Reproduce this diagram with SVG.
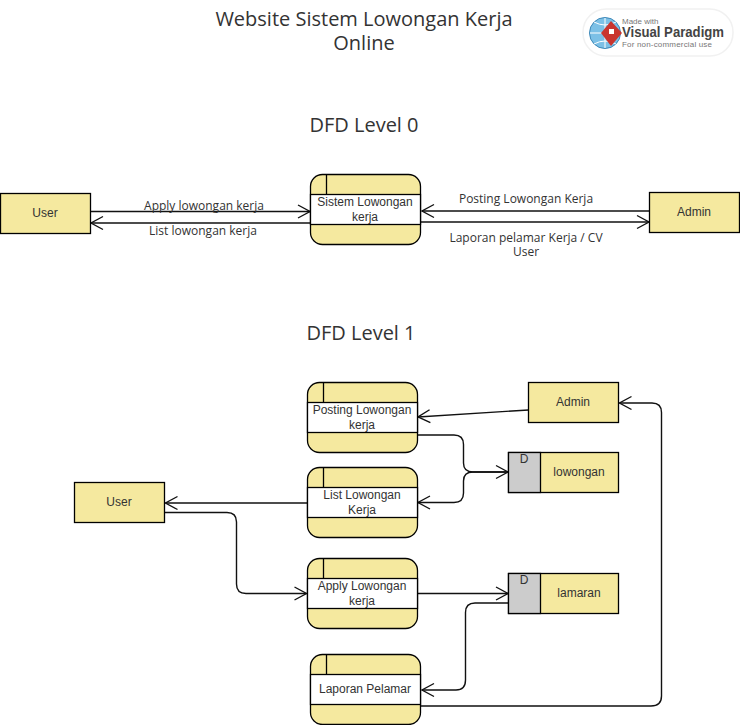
<svg xmlns="http://www.w3.org/2000/svg" width="740" height="725" viewBox="0 0 740 725">
<style>
text{fill:#333;text-anchor:middle}
.t{font:20px "Open Sans",sans-serif}
.l{font:12px "Open Sans",sans-serif}
.n{font:12px "Liberation Sans",Arial,sans-serif}
.box{fill:#f5e99f;stroke:#000;stroke-width:1.3}
.mid{fill:#fff;stroke:#000;stroke-width:1.3}
.ln{fill:none;stroke:#000;stroke-width:1.3}
.c{fill:none;stroke:#111;stroke-width:1.4;marker-end:url(#a)}
</style>
<defs>
<marker id="a" markerUnits="userSpaceOnUse" markerWidth="16" markerHeight="16" refX="13" refY="8" orient="auto" overflow="visible"><path d="M1 1.5L13 8L1 14.500" fill="none" stroke="#111" stroke-width="1.4"/></marker>
<symbol id="proc" overflow="visible"><rect class="box" x="0" y="0" width="110" height="70" rx="12"/><rect class="mid" x="0" y="20" width="110" height="30"/><path class="ln" d="M16 0V20"/></symbol>
</defs>
<rect width="740" height="725" fill="#fff"/>
<text class="t" x="364" y="26">Website Sistem Lowongan Kerja<tspan x="364" dy="24">Online</tspan></text>
<text class="t" x="364" y="132">DFD Level 0</text>
<text class="t" x="361" y="340">DFD Level 1</text>
<g id="badge">
<rect x="583" y="9" width="150" height="47" rx="23" fill="#fff" stroke="#f1f1f1" stroke-width="1.500"/>
<circle cx="605" cy="33" r="15.500" fill="#7cc0e6" stroke="#3d88b8"/>
<path d="M590 33H620M605 18V48M594 22Q605 28 616 22M594 44Q605 38 616 44" fill="none" stroke="#fff"/>
<path d="M611 21L622 33L611 46L601 33Z" fill="#c9352f"/><path d="M609 29H614V34H609Z" fill="#fff"/>
<text style="font:8px 'Liberation Sans',sans-serif;text-anchor:start;fill:#777"><tspan x="622" y="24">Made with</tspan><tspan x="622" y="37" style="font:bold 14px 'Liberation Sans',sans-serif;fill:#444" textLength="102" lengthAdjust="spacingAndGlyphs">Visual Paradigm</tspan><tspan x="622" y="47" textLength="90">For non-commercial use</tspan></text>
</g>
<g id="connectors">
<path class="c" d="M90.500 211.500H310"/>
<path class="c" d="M310 223H91"/>
<path class="c" d="M649 211H422"/>
<path class="c" d="M421 222H649"/>
<path class="c" d="M528.500 410L418 417"/>
<path class="c" d="M417.500 435H454Q463.500 435 463.500 444.500V463Q463.500 472 473 472H508"/>
<path class="c" d="M508 472H473Q463.500 472 463.500 481V493Q463.500 502.500 454 502.500H418"/>
<path class="c" d="M307.500 503H165.500"/>
<path class="c" d="M164.500 512.500H227Q236.500 512.500 236.500 522V584Q236.500 593.500 246 593.500H306.500"/>
<path class="c" d="M417.500 593.500H508"/>
<path class="c" d="M508.500 603H475Q465.500 603 465.500 612.500V680Q465.500 690 456 690H422"/>
<path class="c" d="M420.500 706H651Q661.500 706 661.500 696V412.500Q661.500 403 652 403H619.500"/>
</g>
<g id="l0-user"><rect class="box" x="0.500" y="193.500" width="90" height="40"/><text class="n" x="45" y="217">User</text></g>
<g id="l0-sistem"><use href="#proc" x="310.500" y="174.500"/><text class="n" x="365" y="206">Sistem Lowongan<tspan x="365" dy="15">kerja</tspan></text></g>
<g id="l0-admin"><rect class="box" x="649.500" y="192.500" width="90" height="40"/><text class="n" x="694" y="216">Admin</text></g>
<g id="labels">
<text class="l" x="204" y="210">Apply lowongan kerja</text>
<text class="l" x="203" y="235">List lowongan kerja</text>
<text class="l" x="526" y="203">Posting Lowongan Kerja</text>
<text class="l" x="526" y="242">Laporan pelamar Kerja / CV<tspan x="526" dy="14">User</tspan></text>
</g>
<g id="l1-posting"><use href="#proc" x="307.500" y="382.500"/><text class="n" x="362" y="414">Posting Lowongan<tspan x="362" dy="15">kerja</tspan></text></g>
<g id="l1-list"><use href="#proc" x="307.500" y="467.500"/><text class="n" x="362" y="499">List Lowongan<tspan x="362" dy="15">Kerja</tspan></text></g>
<g id="l1-apply"><use href="#proc" x="307.500" y="558.500"/><text class="n" x="362" y="590">Apply Lowongan<tspan x="362" dy="15">kerja</tspan></text></g>
<g id="l1-laporan"><use href="#proc" x="310.500" y="654.500"/><text class="n" x="365" y="693">Laporan Pelamar</text></g>
<g id="l1-admin"><rect class="box" x="528.500" y="382.500" width="90" height="40"/><text class="n" x="573" y="406">Admin</text></g>
<g id="l1-user"><rect class="box" x="74.500" y="482.500" width="90" height="40"/><text class="n" x="119" y="506">User</text></g>
<g id="l1-lowongan"><rect class="box" x="508.500" y="452.500" width="110" height="40"/><rect x="508.500" y="452.500" width="32" height="40" fill="#ccc" stroke="#000" stroke-width="1.300"/><text class="n" x="524" y="463">D</text><text class="n" x="579" y="476">lowongan</text></g>
<g id="l1-lamaran"><rect class="box" x="508.500" y="573.500" width="110" height="40"/><rect x="508.500" y="573.500" width="32" height="40" fill="#ccc" stroke="#000" stroke-width="1.300"/><text class="n" x="524" y="584">D</text><text class="n" x="579" y="597">lamaran</text></g>
</svg>
